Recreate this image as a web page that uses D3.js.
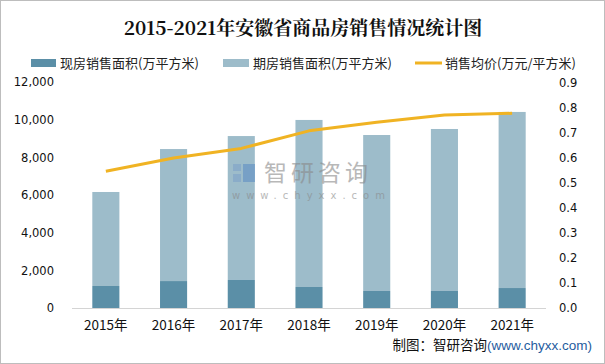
<!DOCTYPE html>
<html><head><meta charset="utf-8">
<script src="https://cdn.jsdelivr.net/npm/d3@7"></script>
<style>body{margin:0;background:#fff}svg{display:block}</style>
</head><body>
<script>
const categories = ["2015年","2016年","2017年","2018年","2019年","2020年","2021年"];
const existingArea = [1170,1430,1490,1115,905,905,1060];
const futuresArea = [4990,7010,7640,8870,8280,8600,9350];
const avgPrice = [0.546,0.599,0.637,0.707,0.741,0.770,0.777];
const leftTicks = [0,2000,4000,6000,8000,10000,12000];
const rightTicks = [0,0.1,0.2,0.3,0.4,0.5,0.6,0.7,0.8,0.9];

const W=605,H=364;
const svg=d3.select("body").append("svg").attr("width",W).attr("height",H);
svg.append("rect").attr("x",0.5).attr("y",0.5).attr("width",W-1).attr("height",H-1).attr("fill","#fff").attr("stroke","#bdbdbd");

const x=d3.scaleBand().domain(categories).range([72,546]).paddingInner(0.6).paddingOuter(0.3);
const yL=d3.scaleLinear().domain([0,12000]).range([308,82]);
const yR=d3.scaleLinear().domain([0,0.9]).range([308,82.5]);

const cjk='"Noto Sans CJK SC","Noto Sans",sans-serif';
// title
svg.append("text").attr("x",303).attr("y",35).attr("text-anchor","middle")
 .attr("font-family",'"Noto Serif CJK SC","Liberation Serif","Noto Sans CJK SC",serif').attr("font-weight","bold").attr("font-size",19).attr("fill","#111")
 .text("2015-2021年安徽省商品房销售情况统计图");

// legend
const lg=svg.append("g").attr("font-family",cjk).attr("font-size",13).attr("fill","#222");
lg.append("rect").attr("x",31).attr("y",59).attr("width",25).attr("height",8).attr("fill","#5b8fa7");
lg.append("text").attr("x",60).attr("y",68).text("现房销售面积(万平方米)");
lg.append("rect").attr("x",223).attr("y",59).attr("width",26).attr("height",8).attr("fill","#9dbcca");
lg.append("text").attr("x",253).attr("y",68).text("期房销售面积(万平方米)");
lg.append("line").attr("x1",415).attr("x2",442).attr("y1",63).attr("y2",63).attr("stroke","#f0b323").attr("stroke-width",3);
lg.append("text").attr("x",445).attr("y",68).text("销售均价(万元/平方米)");

// bars
const g=svg.append("g");
g.selectAll(".fut").data(categories).enter().append("rect")
 .attr("x",d=>x(d)).attr("width",x.bandwidth())
 .attr("y",(d,i)=>yL(existingArea[i]+futuresArea[i]))
 .attr("height",(d,i)=>yL(existingArea[i])-yL(existingArea[i]+futuresArea[i]))
 .attr("fill","#9dbcca");
g.selectAll(".ex").data(categories).enter().append("rect")
 .attr("x",d=>x(d)).attr("width",x.bandwidth())
 .attr("y",(d,i)=>yL(existingArea[i]))
 .attr("height",(d,i)=>yL(0)-yL(existingArea[i]))
 .attr("fill","#5b8fa7");

// axis line
svg.append("line").attr("x1",72).attr("x2",546).attr("y1",308.5).attr("y2",308.5).attr("stroke","#d4d4d4").attr("stroke-width",1);

// line
const line=d3.line().x((d,i)=>x(categories[i])+x.bandwidth()/2).y(d=>yR(d));
svg.append("path").datum(avgPrice).attr("d",line).attr("fill","none").attr("stroke","#f0b323").attr("stroke-width",3).attr("stroke-linejoin","round");

// watermark (on top)
const wm=svg.append("g").attr("opacity",0.6);
wm.append("rect").attr("x",233).attr("y",164).attr("width",8).attr("height",7).attr("fill","#7fa3c9");
wm.append("rect").attr("x",233).attr("y",174).attr("width",8).attr("height",8).attr("fill","#7fa3c9");
wm.append("rect").attr("x",243).attr("y",164).attr("width",12).attr("height",18).attr("fill","#5e8fc4");
wm.append("text").attr("x",264).attr("y",181).attr("font-family",cjk).attr("font-size",23).attr("fill","#8a8a8a").attr("letter-spacing",4).text("智研咨询");
wm.append("text").attr("x",232).attr("y",199).attr("font-family",'"DejaVu Sans",sans-serif').attr("font-size",10).attr("fill","#8a8a8a").attr("letter-spacing",6).text("www.chyxx.com");

// left axis
const la=svg.append("g").attr("transform","translate(54,0)")
 .call(d3.axisLeft(yL).tickValues(leftTicks).tickSize(0).tickPadding(0).tickFormat(d3.format(",")));
la.select(".domain").remove();
la.selectAll("text").attr("font-family",'"DejaVu Sans",sans-serif').attr("font-size",11.5).attr("fill","#111");

// right axis
const ra=svg.append("g").attr("transform","translate(559,0)")
 .call(d3.axisRight(yR).tickValues(rightTicks).tickSize(0).tickPadding(0).tickFormat(d3.format(".1f")));
ra.select(".domain").remove();
ra.selectAll("text").attr("font-family",'"DejaVu Sans",sans-serif').attr("font-size",11.5).attr("fill","#111");

// x axis labels
const xa=svg.append("g").attr("transform","translate(0,318)")
 .call(d3.axisBottom(x).tickSize(0).tickPadding(0));
xa.select(".domain").remove();
xa.selectAll("text").attr("font-family",cjk).attr("font-size",13.5).attr("fill","#111").attr("dy","0.9em");

// footer
const ft=svg.append("text").attr("x",592).attr("y",350).attr("text-anchor","end").attr("font-size",13.5);
ft.append("tspan").attr("font-family",cjk).attr("fill","#111").text("制图：智研咨询");
ft.append("tspan").attr("font-family",'"Liberation Sans",Arial,sans-serif').attr("fill","#1f5c9e").text("(www.chyxx.com)");
</script>
</body></html>
